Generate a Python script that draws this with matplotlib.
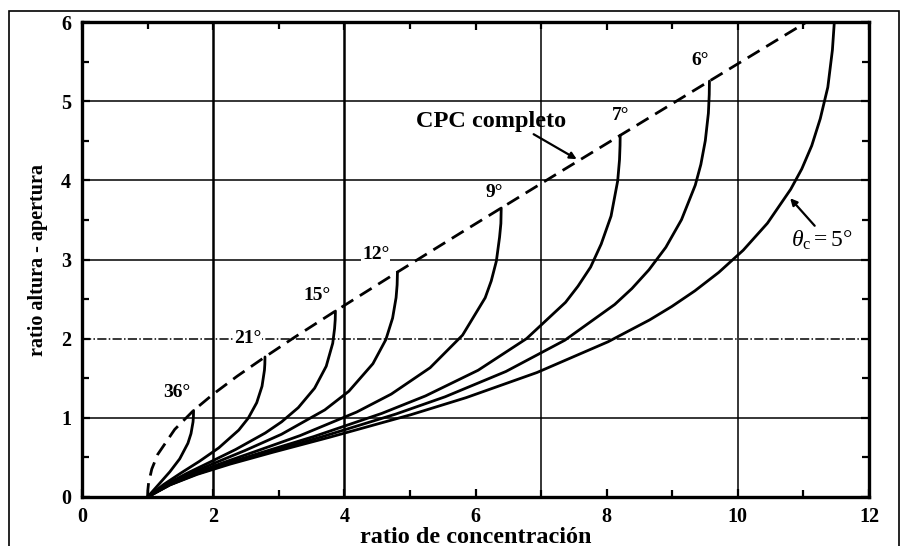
import matplotlib
matplotlib.use("Agg")
import matplotlib.pyplot as plt
from matplotlib.patches import Rectangle

plt.rcParams["mathtext.fontset"] = "custom"
plt.rcParams["mathtext.rm"] = "Liberation Serif"
plt.rcParams["mathtext.it"] = "Liberation Serif:italic"

# ---- data ----
cpc_x = [1.0, 1.004, 1.015, 1.064, 1.155, 1.414, 1.701, 2.0, 2.366, 2.790, 3.236, 3.864,
         4.810, 5.759, 6.392, 7.185, 8.206, 9.567, 10.433, 11.034, 11.474]
cpc_y = [0.0, 0.087, 0.175, 0.353, 0.539, 0.854, 1.093, 1.299, 1.526, 1.769, 2.015, 2.349,
         2.841, 3.328, 3.650, 4.053, 4.568, 5.254, 5.690, 5.992, 6.21]

t36_x = [1.0, 1.174, 1.339, 1.490, 1.615, 1.662, 1.693, 1.699, 1.701]
t36_y = [0.0, 0.163, 0.318, 0.482, 0.679, 0.801, 0.948, 1.017, 1.093]

t21_x = [1.0, 1.247, 1.509, 1.789, 2.086, 2.390, 2.535, 2.664, 2.745, 2.782, 2.788, 2.790]
t21_y = [0.0, 0.159, 0.303, 0.450, 0.621, 0.845, 0.996, 1.191, 1.399, 1.602, 1.681, 1.769]

t15_x = [1.0, 1.280, 1.592, 1.942, 2.340, 2.795, 3.043, 3.298, 3.547, 3.724, 3.823, 3.851,
         3.861, 3.864]
t15_y = [0.0, 0.157, 0.296, 0.437, 0.599, 0.809, 0.949, 1.129, 1.375, 1.652, 1.942, 2.126,
         2.240, 2.349]

t12_x = [1.0, 1.299, 1.637, 2.028, 2.488, 3.041, 3.702, 4.069, 4.436, 4.633, 4.736, 4.789,
         4.805, 4.810]
t12_y = [0.0, 0.156, 0.293, 0.431, 0.588, 0.792, 1.100, 1.336, 1.684, 1.988, 2.260, 2.518,
         2.680, 2.841]

t9_x = [1.0, 1.318, 1.686, 2.122, 2.653, 3.323, 4.188, 4.716, 5.308, 5.803, 6.148, 6.240,
        6.318, 6.367, 6.387, 6.392]
t9_y = [0.0, 0.155, 0.290, 0.425, 0.578, 0.775, 1.073, 1.300, 1.633, 2.045, 2.517, 2.729,
        2.979, 3.282, 3.455, 3.650]

t7_x = [1.0, 1.332, 1.721, 2.189, 2.774, 3.536, 4.571, 5.238, 6.040, 6.779, 7.373, 7.563,
        7.755, 7.916, 8.067, 8.168, 8.196, 8.204, 8.206]
t7_y = [0.0, 0.154, 0.288, 0.421, 0.571, 0.764, 1.056, 1.277, 1.601, 2.001, 2.459, 2.663,
        2.904, 3.194, 3.549, 3.993, 4.261, 4.441, 4.568]

t6_x = [1.0, 1.339, 1.738, 2.224, 2.839, 3.651, 4.783, 5.537, 6.465, 7.363, 8.123, 8.385,
        8.645, 8.902, 9.141, 9.351, 9.436, 9.504, 9.551, 9.564, 9.567]
t6_y = [0.0, 0.154, 0.287, 0.419, 0.567, 0.759, 1.047, 1.266, 1.586, 1.981, 2.432, 2.633,
        2.870, 3.154, 3.503, 3.939, 4.200, 4.501, 4.848, 5.084, 5.254]

t5_x = [1.0, 1.346, 1.757, 2.261, 2.906, 3.772, 5.013, 5.857, 6.936, 8.022, 8.655, 8.994,
        9.345, 9.709, 10.082, 10.452, 10.806, 10.975, 11.127, 11.257, 11.372, 11.442,
        11.469, 11.474]
t5_y = [0.0, 0.154, 0.286, 0.416, 0.564, 0.754, 1.039, 1.255, 1.572, 1.961, 2.237, 2.407,
        2.604, 2.837, 3.117, 3.459, 3.887, 4.144, 4.438, 4.779, 5.176, 5.646,
        5.973, 6.21]

angle_labels = ["36°", "21°", "15°", "12°", "9°", "7°", "6°"]
angle_lab_x = [1.44, 2.53, 3.59, 4.48, 6.28, 8.22, 9.43]
angle_lab_y = [1.32, 2.00, 2.54, 3.06, 3.85, 4.82, 5.51]

hgrid = [1, 2, 3, 4, 5]
vgrid = [2, 4, 7, 10]
xticks = [0, 2, 4, 6, 8, 10, 12]
yticks = [0, 1, 2, 3, 4, 5, 6]

serif = "Liberation Serif"

fig = plt.figure(figsize=(9.01, 5.46), dpi=100)
ax = fig.add_axes([82/901, 1-497/546, 787/901, 475/546])

# grid
for yv in hgrid:
    ls = (0, (6, 1.5, 1, 1.5)) if yv == 2 else "-"
    ax.axhline(yv, color="black", lw=1.1, ls=ls, zorder=1)
for xv in vgrid:
    ax.axvline(xv, color="black", lw=1.8 if xv in (2, 4) else 1.1, zorder=1)

# curves
for xs, ys in [(t36_x, t36_y), (t21_x, t21_y), (t15_x, t15_y), (t12_x, t12_y),
               (t9_x, t9_y), (t7_x, t7_y), (t6_x, t6_y), (t5_x, t5_y)]:
    ax.plot(xs, ys, color="black", lw=2.0, solid_capstyle="round",
            solid_joinstyle="round", zorder=3)
ax.plot(cpc_x, cpc_y, color="black", lw=2.0, ls=(0, (5, 2.8)), zorder=3)

# labels
for lab, lx, ly in zip(angle_labels, angle_lab_x, angle_lab_y):
    ax.text(lx, ly, lab, fontfamily=serif, fontweight="bold", fontsize=14,
            ha="center", va="center", zorder=4,
            bbox=dict(facecolor="white", edgecolor="none", pad=0.5))

ax.text(6.23, 4.74, "CPC completo", fontfamily=serif, fontweight="bold", fontsize=17.5,
        ha="center", va="center", zorder=4)
ax.annotate("", xy=(7.58, 4.25), xytext=(6.85, 4.60),
            arrowprops=dict(arrowstyle="-|>", color="black", lw=1.6, mutation_scale=10),
            zorder=4)

ax.text(11.28, 3.25, r"$\theta_\mathrm{c}=5°$", fontsize=17,
        ha="center", va="center", zorder=4,
        bbox=dict(facecolor="white", edgecolor="none", pad=0.3))
ax.annotate("", xy=(10.77, 3.80), xytext=(11.2, 3.40),
            arrowprops=dict(arrowstyle="-|>", color="black", lw=1.6, mutation_scale=10),
            zorder=4)

ax.set_xlim(0, 12)
ax.set_ylim(0, 6)
ax.set_xticks(xticks)
ax.set_yticks(yticks)
ax.set_xticks([1, 3, 5, 7, 9, 11], minor=True)
ax.set_yticks([0.5, 1.5, 2.5, 3.5, 4.5, 5.5], minor=True)
ax.tick_params(which="both", direction="in", top=True, right=True, width=1.6)
ax.tick_params(which="major", length=6)
ax.tick_params(axis="x", which="major", pad=7)
ax.tick_params(axis="y", which="major", pad=8)
ax.tick_params(which="minor", length=5)
for lab in ax.get_xticklabels() + ax.get_yticklabels():
    lab.set_fontfamily(serif)
    lab.set_fontweight("bold")
    lab.set_fontsize(14.5)
for sp in ax.spines.values():
    sp.set_linewidth(2.4)

ax.set_xlabel("ratio de concentración", fontfamily=serif, fontweight="bold", fontsize=17.5,
              labelpad=0)
ax.set_ylabel("ratio altura - apertura", fontfamily=serif, fontweight="bold", fontsize=14.5,
              labelpad=9)

fig.patches.append(Rectangle((9/901, -0.02), 890/901, 1.02 - 11/546,
                             transform=fig.transFigure, fill=False,
                             edgecolor="black", lw=1.2))

fig.savefig("out.png", dpi=100)
